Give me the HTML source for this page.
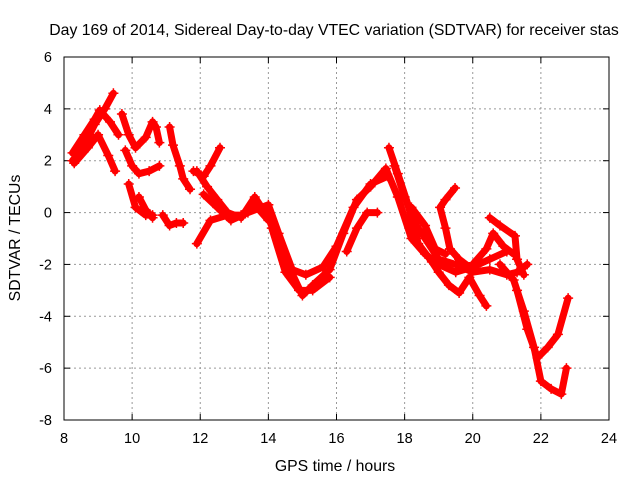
<!DOCTYPE html>
<html><head><meta charset="utf-8"><style>
body{margin:0;background:#fff;}
svg{display:block;font-family:"Liberation Sans",sans-serif;}
</style></head><body>
<svg id="c" width="640" height="480">
<text x="334" y="35" font-size="15.8" text-anchor="middle">Day 169 of 2014, Sidereal Day-to-day VTEC variation (SDTVAR) for receiver stas</text>
<text x="335" y="471" font-size="15.8" text-anchor="middle">GPS time / hours</text>
<text transform="translate(20,238) rotate(-90)" font-size="15.8" text-anchor="middle">SDTVAR / TECUs</text>
<g id="grid"></g><g id="ticks"></g><g id="series"></g>
<rect x="64" y="57" width="545" height="363" fill="none" stroke="#000" stroke-width="1"/>
</svg>
<script>
const xTicks=[8,10,12,14,16,18,20,22,24];
const yTicks=[-8,-6,-4,-2,0,2,4,6];
const tracks=[
[[8.25,2.0],[8.6,2.6],[8.9,3.4],[9.2,4.0],[9.45,4.6]],
[[8.25,2.3],[8.6,3.0],[8.9,3.6],[9.05,3.95],[9.35,3.5],[9.6,3.0]],
[[8.3,1.9],[8.7,2.5],[9.0,3.0],[9.3,2.2],[9.5,1.6]],
[[9.7,3.8],[9.9,3.0],[10.1,2.5],[10.4,2.9],[10.6,3.5],[10.7,3.3],[10.8,2.7]],
[[9.8,2.4],[10.0,1.8],[10.2,1.5],[10.5,1.6],[10.8,1.8]],
[[9.9,1.1],[10.1,0.2],[10.4,-0.1],[10.6,-0.1]],
[[10.2,0.6],[10.4,0.1],[10.6,-0.2]],
[[10.9,-0.1],[11.1,-0.5],[11.3,-0.4],[11.5,-0.4]],
[[11.1,3.3],[11.2,2.6],[11.4,1.8],[11.5,1.3],[11.7,0.9]],
[[11.8,1.6],[12.1,1.4],[12.3,1.8],[12.58,2.5]],
[[11.9,1.6],[12.2,1.0],[12.5,0.5],[12.8,0.0],[13.2,-0.2],[13.6,0.6],[14.0,-0.2],[14.5,-1.8],[15.0,-3.2],[15.3,-2.8],[15.8,-2.2],[16.2,-0.8],[16.6,0.5],[17.0,1.0],[17.45,1.7],[17.8,0.6],[18.2,-1.0],[18.6,-1.6],[19.0,-2.0],[19.5,-2.3],[20.0,-2.1],[20.5,-1.8],[21.0,-1.5]],
[[12.1,0.7],[12.5,0.2],[12.9,-0.3],[13.4,0.0],[14.0,0.3],[14.3,-0.8],[14.7,-2.2],[15.1,-2.4],[15.6,-2.1],[16.0,-1.3],[16.5,0.2],[17.0,1.1],[17.5,1.4]],
[[14.1,-0.6],[14.5,-2.3],[14.9,-3.0],[15.3,-3.0],[15.8,-2.5]],
[[11.9,-1.2],[12.3,-0.3],[12.8,-0.1],[13.2,-0.1],[13.6,0.3],[14.0,-0.3]],
[[16.3,-1.5],[16.6,-0.6],[16.9,0.0],[17.2,0.0]],
[[17.54,2.5],[17.8,1.5],[18.1,0.3],[18.4,-1.2],[18.8,-1.9],[19.0,-2.3],[19.3,-2.8],[19.6,-3.1],[19.9,-2.5],[20.2,-3.2],[20.4,-3.6]],
[[17.7,1.8],[18.0,0.6],[18.3,-0.4],[18.6,-1.0],[19.0,-1.8],[19.5,-2.0],[20.0,-2.3],[20.5,-2.2],[21.0,-2.4],[21.3,-2.3],[21.6,-2.0]],
[[19.48,0.95],[19.2,0.5],[19.04,0.2],[19.2,-0.6],[19.33,-1.4],[19.6,-1.8],[19.9,-2.1]],
[[18.2,0.2],[18.6,-0.5],[18.9,-1.4],[19.2,-1.6]],
[[20.5,-0.2],[20.8,-0.5],[21.24,-0.9],[21.3,-1.8],[21.5,-2.4]],
[[20.0,-2.0],[20.4,-1.4],[20.6,-0.8],[20.9,-1.3],[21.2,-1.6]],
[[20.8,-2.0],[21.2,-2.6],[21.5,-3.8],[21.8,-5.2],[22.0,-6.5],[22.3,-6.8],[22.6,-7.0],[22.75,-6.0]],
[[21.3,-3.0],[21.6,-4.5],[21.9,-5.6],[22.2,-5.2],[22.5,-4.7],[22.8,-3.3]]
];
const X=t=>64+(t-8)*545/16, Y=v=>57+(6-v)*363/14;
const ns="http://www.w3.org/2000/svg";
function mk(tag,at,parent){const e=document.createElementNS(ns,tag);for(const k in at)e.setAttribute(k,at[k]);document.getElementById(parent).appendChild(e);return e;}
xTicks.forEach(t=>{const x=X(t);
 if(t>8&&t<24){const g=mk('line',{x1:x,y1:57,x2:x,y2:420,stroke:'#999','stroke-dasharray':'2,3'},'grid');
 
 }
 mk('line',{x1:x,y1:420,x2:x,y2:414,stroke:'#000'},'ticks');mk('line',{x1:x,y1:57,x2:x,y2:63,stroke:'#000'},'ticks');
 const l=mk('text',{x:x,y:443,'font-size':14.5,'text-anchor':'middle'},'ticks');l.textContent=t;
 
 });
yTicks.forEach(v=>{const y=Y(v);
 if(v>-8&&v<6){const g=mk('line',{x1:64,y1:y,x2:609,y2:y,stroke:'#999','stroke-dasharray':'2,3'},'grid');
 
 }
 mk('line',{x1:64,y1:y,x2:70,y2:y,stroke:'#000'},'ticks');mk('line',{x1:603,y1:y,x2:609,y2:y,stroke:'#000'},'ticks');
 const l=mk('text',{x:52,y:y+5,'font-size':14.5,'text-anchor':'end'},'ticks');l.textContent=v;
 
 });
tracks.forEach((tr,i)=>{
 const p=mk('polyline',{points:tr.map(d=>X(d[0])+','+Y(d[1])).join(' '),fill:'none',stroke:'#f00','stroke-width':7,'stroke-linejoin':'round','stroke-linecap':'round'},'series');
 
 
 tr.forEach(d=>{const x=X(d[0]),y=Y(d[1]);
  const m=mk('path',{d:`M${x-5},${y}h10M${x},${y-5}v10`,stroke:'#f00','stroke-width':1.5},'series');
  
  });
});
</script>
</body></html>
